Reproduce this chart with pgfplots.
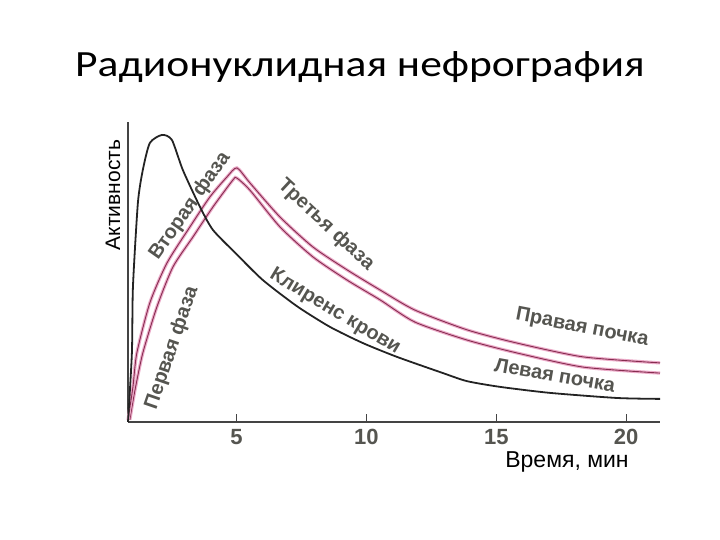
\documentclass[border=0pt]{standalone}
\usepackage{fontspec}
\setmainfont{Liberation Sans}
\newfontfamily\titlefont{Carlito}
\usepackage{pgfplots}
\pgfplotsset{compat=1.18}
\definecolor{KidDark}{RGB}{135,45,80}
\definecolor{KidPink}{RGB}{235,170,200}
\definecolor{Ink}{RGB}{35,35,35}
\definecolor{Note}{RGB}{85,85,80}

\begin{document}
\begin{tikzpicture}
\path[use as bounding box] (0pt,0pt) rectangle (720pt,540pt);
\begin{axis}[
  at={(128pt,118pt)}, anchor=south west,
  scale only axis, width=532pt, height=300pt,
  xmin=0.83, xmax=21.3, ymin=0, ymax=100,
  axis lines=left, axis line style={-, line width=1.6pt, Ink!85},
  xtick={5,10,15,20}, ytick=\empty,
  tick align=inside, major tick length=8pt,
  tick style={line width=1.2pt, Ink!85},
  /pgf/number format/assume math mode=true,
  typeset ticklabels with strut,
  xticklabel style={font=\bfseries\fontsize{22}{22}\selectfont, text=Note, yshift=-4pt},
  clip=false,
]
% left kidney (lower)
\addplot[KidPink, line width=3.2pt, smooth, tension=0.4] coordinates {
 (0.90,0.7) (1.10,10.7) (1.40,23) (1.94,38.3) (2.56,51.7) (3.33,61.7)
 (4.10,71.7) (4.87,80.7) (5.02,81.3) (5.52,77.3) (6.68,65) (7.95,55)
 (9.26,47.3) (10.53,40.7) (11.87,33.3) (13.88,27.3) (15.80,23) (18.34,18.3) (21.3,16.3)};
\addplot[KidDark, line width=0.9pt, smooth, tension=0.4] coordinates {
 (0.90,0.7) (1.10,10.7) (1.40,23) (1.94,38.3) (2.56,51.7) (3.33,61.7)
 (4.10,71.7) (4.87,80.7) (5.02,81.3) (5.52,77.3) (6.68,65) (7.95,55)
 (9.26,47.3) (10.53,40.7) (11.87,33.3) (13.88,27.3) (15.80,23) (18.34,18.3) (21.3,16.3)};
% right kidney (upper)
\addplot[KidPink, line width=3.2pt, smooth, tension=0.4] coordinates {
 (0.83,0.7) (1.02,11.7) (1.17,23) (1.67,39.7) (2.33,53) (3.21,65)
 (3.98,75) (4.64,81.7) (5.02,84.7) (5.52,79.7) (6.68,68.3) (7.95,58.3)
 (9.26,50.7) (10.53,44) (11.87,37.3) (13.88,30.7) (15.80,26.3) (18.34,21.7) (21.3,19.7)};
\addplot[KidDark, line width=0.9pt, smooth, tension=0.4] coordinates {
 (0.83,0.7) (1.02,11.7) (1.17,23) (1.67,39.7) (2.33,53) (3.21,65)
 (3.98,75) (4.64,81.7) (5.02,84.7) (5.52,79.7) (6.68,68.3) (7.95,58.3)
 (9.26,50.7) (10.53,44) (11.87,37.3) (13.88,30.7) (15.80,26.3) (18.34,21.7) (21.3,19.7)};
% blood clearance
\addplot[Ink, line width=1.8pt, smooth, tension=0.4] coordinates {
 (0.83,0) (0.98,23) (1.02,45) (1.21,73) (1.40,84) (1.67,93) (2.14,95.7)
 (2.52,94) (2.94,84) (3.60,71.7) (4.10,64) (5.00,56) (6.02,47.3)
 (7.33,38.6) (8.60,31.7) (9.87,26.3) (11.18,21.7) (12.95,16.3)
 (13.88,13.6) (15.15,11.7) (17.07,9.7) (19.65,8) (21.3,7.7)};
\end{axis}
\node[font=\titlefont\fontsize{43.5}{43.5}\selectfont, anchor=base, yscale=0.85] at (360pt,463pt) {Радионуклидная нефрография};
\node[font=\fontsize{21}{21}\selectfont, rotate=90] at (113pt,345pt) {Активность};
\node[font=\fontsize{23}{23}\selectfont] at (567pt,78pt) {Время, мин};
\begin{scope}[every node/.style={font=\bfseries\fontsize{20}{20}\selectfont, text=Note}]
\node[rotate=71] at (172pt,192pt) {Первая фаза};
\node[rotate=55] at (190pt,334pt) {Вторая фаза};
\node[rotate=-43] at (326pt,315pt) {Третья фаза};
\node[rotate=-31] at (335pt,228pt) {Клиренс крови};
\node[rotate=-11] at (582pt,212pt) {Правая почка};
\node[rotate=-10] at (555pt,165pt) {Левая почка};
\end{scope}
\end{tikzpicture}
\end{document}
